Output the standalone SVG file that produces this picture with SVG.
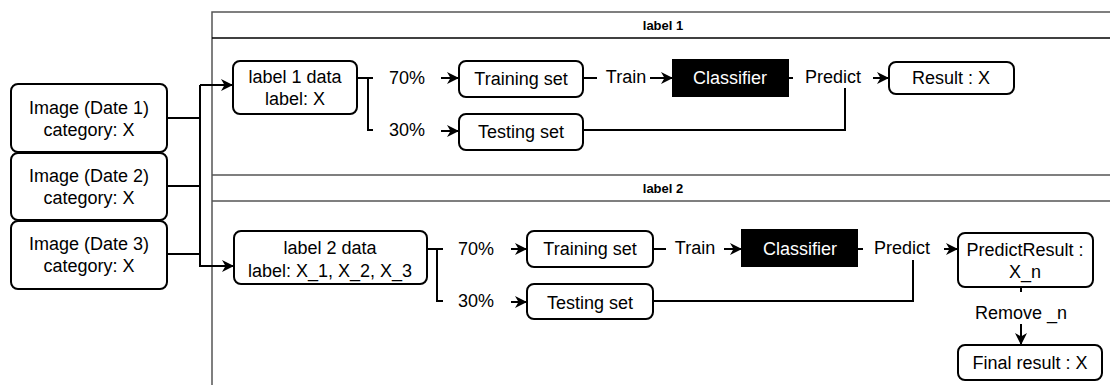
<svg xmlns="http://www.w3.org/2000/svg" width="1110" height="385" viewBox="0 0 1110 385">
<style>
.box{fill:#fff;stroke:#000;stroke-width:2}
.dark{fill:#000;stroke:#000;stroke-width:2}
.t{font-family:"Liberation Sans",Arial,sans-serif;font-size:18px;fill:#000;text-anchor:middle;dominant-baseline:central}
.w{fill:#fff}
.h{font-family:"Liberation Sans",Arial,sans-serif;font-size:13px;font-weight:bold;fill:#000;text-anchor:middle;dominant-baseline:central}
.pool{fill:none;stroke:#555;stroke-width:1.5}
.e{fill:none;stroke:#000;stroke-width:2}
.a{fill:none;stroke:#000;stroke-width:2;marker-end:url(#arr)}
</style>
<defs>
<marker id="arr" markerUnits="userSpaceOnUse" markerWidth="13" markerHeight="13" viewBox="0 0 13 13" refX="12" refY="6.5" orient="auto">
<path d="M0,0.5 L12,6.5 L0,12.5 L3.5,6.5 Z" fill="#000"/>
</marker>
</defs>

<g id="container">
<path class="pool" d="M1112,12 H212 V390"/>
<line x1="212" y1="38" x2="1112" y2="38" stroke="#000" stroke-width="1.5"/>
<line class="pool" x1="212" y1="175" x2="1112" y2="175"/>
<line class="pool" x1="212" y1="201" x2="1112" y2="201"/>
<text class="h" x="663" y="25">label 1</text>
<text class="h" x="663" y="188">label 2</text>
</g>

<g id="connectors">
<path class="e" d="M167,118 H200"/>
<path class="e" d="M167,186 H200"/>
<path class="e" d="M167,254 H200"/>
<path class="e" d="M200,118 V85"/>
<path class="a" d="M200,85 H233"/>
<path class="a" d="M200,254 V266 H234"/>
<path class="e" d="M200,118 V254"/>
<path class="e" d="M357,78 H373 M368,78 V130 H373"/>
<text class="t" x="407" y="78">70%</text>
<text class="t" x="407" y="130">30%</text>
<path class="a" d="M441,78 H459"/>
<path class="a" d="M441,131 H459"/>
<path class="e" d="M583,78 H597"/>
<text class="t" x="626" y="77">Train</text>
<path class="a" d="M650,78 H673"/>
<path class="e" d="M788,78 H793"/>
<text class="t" x="833" y="77">Predict</text>
<path class="a" d="M873,78 H889"/>
<path class="e" d="M583,130 H845 V88"/>
<path class="e" d="M427,249 H443 M437,249 V301 H443"/>
<text class="t" x="476" y="249">70%</text>
<text class="t" x="476" y="301">30%</text>
<path class="a" d="M511,249 H527"/>
<path class="a" d="M511,302 H527"/>
<path class="e" d="M653,249 H666"/>
<text class="t" x="695" y="248">Train</text>
<path class="a" d="M724,249 H742"/>
<path class="e" d="M857,249 H863"/>
<text class="t" x="902" y="248">Predict</text>
<path class="a" d="M944,249 H958"/>
<path class="e" d="M653,301 H913 V260"/>
<path class="e" d="M1021,287 V292"/>
<text class="t" x="1021" y="313">Remove _n</text>
<path class="a" d="M1021,324 V345"/>
</g>

<g id="img1"><rect class="box" x="11" y="84" width="156" height="68" rx="7"/><text class="t" x="89" y="108">Image (Date 1)</text><text class="t" x="89" y="130">category: X</text></g>
<g id="img2"><rect class="box" x="11" y="153" width="156" height="67" rx="7"/><text class="t" x="89" y="176">Image (Date 2)</text><text class="t" x="89" y="198">category: X</text></g>
<g id="img3"><rect class="box" x="11" y="221" width="156" height="68" rx="7"/><text class="t" x="89" y="244">Image (Date 3)</text><text class="t" x="89" y="266">category: X</text></g>

<g id="l1data"><rect class="box" x="233" y="61" width="124" height="53" rx="7"/><text class="t" x="295" y="77">label 1 data</text><text class="t" x="295" y="99">label: X</text></g>
<g id="train1"><rect class="box" x="459" y="61" width="124" height="36" rx="7"/><text class="t" x="521" y="79">Training set</text></g>
<g id="test1"><rect class="box" x="459" y="114" width="124" height="36" rx="7"/><text class="t" x="521" y="132">Testing set</text></g>
<g id="clf1"><rect class="dark" x="673" y="60" width="115" height="36"/><text class="t w" x="730" y="78">Classifier</text></g>
<g id="res1"><rect class="box" x="889" y="62" width="125" height="32" rx="7"/><text class="t" x="951" y="78">Result : X</text></g>

<g id="l2data"><rect class="box" x="234" y="231" width="193" height="53" rx="7"/><text class="t" x="330" y="248">label 2 data</text><text class="t" x="330" y="271">label: X_1, X_2, X_3</text></g>
<g id="train2"><rect class="box" x="527" y="231" width="126" height="36" rx="7"/><text class="t" x="590" y="249">Training set</text></g>
<g id="test2"><rect class="box" x="527" y="284" width="126" height="35" rx="7"/><text class="t" x="590" y="303">Testing set</text></g>
<g id="clf2"><rect class="dark" x="742" y="230" width="115" height="36"/><text class="t w" x="800" y="249">Classifier</text></g>
<g id="pres"><rect class="box" x="958" y="233" width="135" height="54" rx="7"/><text class="t" x="1025" y="250">PredictResult :</text><text class="t" x="1025" y="272">X_n</text></g>
<g id="final"><rect class="box" x="958" y="345" width="144" height="35" rx="7"/><text class="t" x="1030" y="363">Final result : X</text></g>
</svg>
